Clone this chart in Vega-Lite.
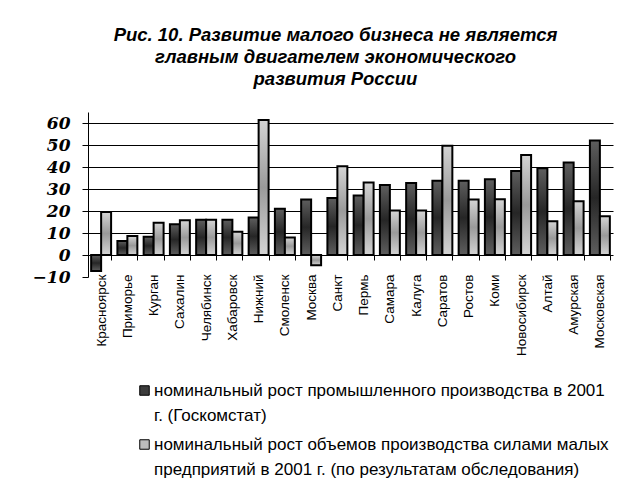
{
  "$schema": "https://vega.github.io/schema/vega-lite/v6.json",
  "autosize": {"type": "none"},
  "width": 525,
  "height": 165,
  "padding": {"left": 88, "top": 112, "right": 16, "bottom": 225},
  "background": "white",
  "title": {
    "text": ["Рис. 10. Развитие малого бизнеса  не является", "главным двигателем экономического", "развития России"],
    "font": "Liberation Sans, Arial, sans-serif",
    "fontSize": 18.5,
    "fontWeight": "bold",
    "fontStyle": "italic",
    "color": "black",
    "lineHeight": 22,
    "anchor": "middle",
    "dx": -15,
    "offset": 24
  },
  "data": {
    "values": [
      {"region": "Красноярск", "series": "a", "value": -7.3},
      {"region": "Красноярск", "series": "b", "value": 19.5},
      {"region": "Приморье", "series": "a", "value": 6.4},
      {"region": "Приморье", "series": "b", "value": 8.6},
      {"region": "Курган", "series": "a", "value": 8.3},
      {"region": "Курган", "series": "b", "value": 14.7},
      {"region": "Сахалин", "series": "a", "value": 14},
      {"region": "Сахалин", "series": "b", "value": 15.8},
      {"region": "Челябинск", "series": "a", "value": 16},
      {"region": "Челябинск", "series": "b", "value": 16},
      {"region": "Хабаровск", "series": "a", "value": 16},
      {"region": "Хабаровск", "series": "b", "value": 10.6},
      {"region": "Нижний", "series": "a", "value": 17},
      {"region": "Нижний", "series": "b", "value": 61.4},
      {"region": "Смоленск", "series": "a", "value": 21},
      {"region": "Смоленск", "series": "b", "value": 8},
      {"region": "Москва", "series": "a", "value": 25.2},
      {"region": "Москва", "series": "b", "value": -4.7},
      {"region": "Санкт", "series": "a", "value": 25.9},
      {"region": "Санкт", "series": "b", "value": 40.3},
      {"region": "Пермь", "series": "a", "value": 27},
      {"region": "Пермь", "series": "b", "value": 32.9},
      {"region": "Самара", "series": "a", "value": 31.8},
      {"region": "Самара", "series": "b", "value": 20.2},
      {"region": "Калуга", "series": "a", "value": 32.7},
      {"region": "Калуга", "series": "b", "value": 20.2},
      {"region": "Саратов", "series": "a", "value": 33.8},
      {"region": "Саратов", "series": "b", "value": 49.7},
      {"region": "Ростов", "series": "a", "value": 33.8},
      {"region": "Ростов", "series": "b", "value": 25.2},
      {"region": "Коми", "series": "a", "value": 34.4},
      {"region": "Коми", "series": "b", "value": 25.3},
      {"region": "Новосибирск", "series": "a", "value": 38.2},
      {"region": "Новосибирск", "series": "b", "value": 45.5},
      {"region": "Алтай", "series": "a", "value": 39.4},
      {"region": "Алтай", "series": "b", "value": 15.3},
      {"region": "Амурская", "series": "a", "value": 42},
      {"region": "Амурская", "series": "b", "value": 24.4},
      {"region": "Московская", "series": "a", "value": 52},
      {"region": "Московская", "series": "b", "value": 17.6}
    ]
  },
  "encoding": {
    "x": {
      "field": "region",
      "type": "nominal",
      "sort": null,
      "scale": {"paddingInner": 0.24, "paddingOuter": 0.12},
      "axis": {
        "title": null,
        "offset": -22,
        "domainColor": "black",
        "domainWidth": 1,
        "ticks": true,
        "tickBand": "extent",
        "tickColor": "black",
        "tickSize": 5,
        "labelAngle": -90,
        "labelPadding": 14,
        "labelFont": "Liberation Sans, Arial, sans-serif",
        "labelFontSize": 13.5,
        "labelColor": "black"
      }
    },
    "xOffset": {"field": "series", "type": "nominal", "scale": {"domain": ["a", "b"]}},
    "y": {
      "field": "value",
      "type": "quantitative",
      "scale": {"domain": [-10, 65], "nice": false, "zero": false},
      "axis": {
        "title": null,
        "values": [-10, 0, 10, 20, 30, 40, 50, 60],
        "domainColor": "black",
        "tickColor": "black",
        "tickSize": 6,
        "grid": true,
        "gridColor": {"condition": {"test": "datum.value <= 0", "value": "transparent"}, "value": "black"},
        "gridWidth": 1,
        "labelFont": "DejaVu Serif",
        "labelFontSize": 17,
        "labelFontWeight": "bold",
        "labelFontStyle": "italic",
        "labelColor": "black",
        "labelPadding": 12
      }
    }
  },
  "layer": [
    {
      "transform": [{"filter": "datum.series == 'a'"}],
      "mark": {
        "type": "bar",
        "stroke": "black",
        "strokeWidth": 2,
        "fill": {"gradient": "linear", "x1": 0, "y1": 0, "x2": 0, "y2": 1,
          "stops": [{"offset": 0, "color": "#5e5e5e"}, {"offset": 0.5, "color": "#262626"}, {"offset": 1, "color": "#5e5e5e"}]}
      }
    },
    {
      "transform": [{"filter": "datum.series == 'b'"}],
      "mark": {
        "type": "bar",
        "stroke": "black",
        "strokeWidth": 2,
        "fill": {"gradient": "linear", "x1": 0, "y1": 0, "x2": 0, "y2": 1,
          "stops": [{"offset": 0, "color": "#d4d4d4"}, {"offset": 0.5, "color": "#9a9a9a"}, {"offset": 1, "color": "#d4d4d4"}]}
      }
    },
    {
      "mark": {"type": "bar", "opacity": 0},
      "encoding": {
        "color": {
          "field": "series",
          "type": "nominal",
          "scale": {"domain": ["a", "b"], "range": ["#3c3c3c", "#bcbcbc"]},
          "legend": {
            "title": null,
            "orient": "none",
            "legendX": 48,
            "legendY": 270,
            "direction": "vertical",
            "symbolType": "square",
            "symbolSize": 90,
            "symbolOpacity": 1,
            "symbolStrokeColor": "black",
            "symbolStrokeWidth": 1,
            "labelFont": "Liberation Sans, Arial, sans-serif",
            "labelFontSize": 17,
            "labelColor": "black",
            "labelLimit": 600,
            "labelOffset": 1,
            "labelBaseline": "middle",
            "labelExpr": "datum.value == 'a' ? ['номинальный рост промышленного производства в 2001', 'г. (Госкомстат)'] : ['номинальный рост объемов производства силами малых', 'предприятий в 2001 г. (по результатам обследования)']",
            "rowPadding": 11,
            "encode": {"labels": {"update": {"lineHeight": {"value": 25}}}}
          }
        }
      }
    }
  ],
  "config": {
    "view": {"stroke": null},
    "axis": {"domainColor": "black"}
  }
}
